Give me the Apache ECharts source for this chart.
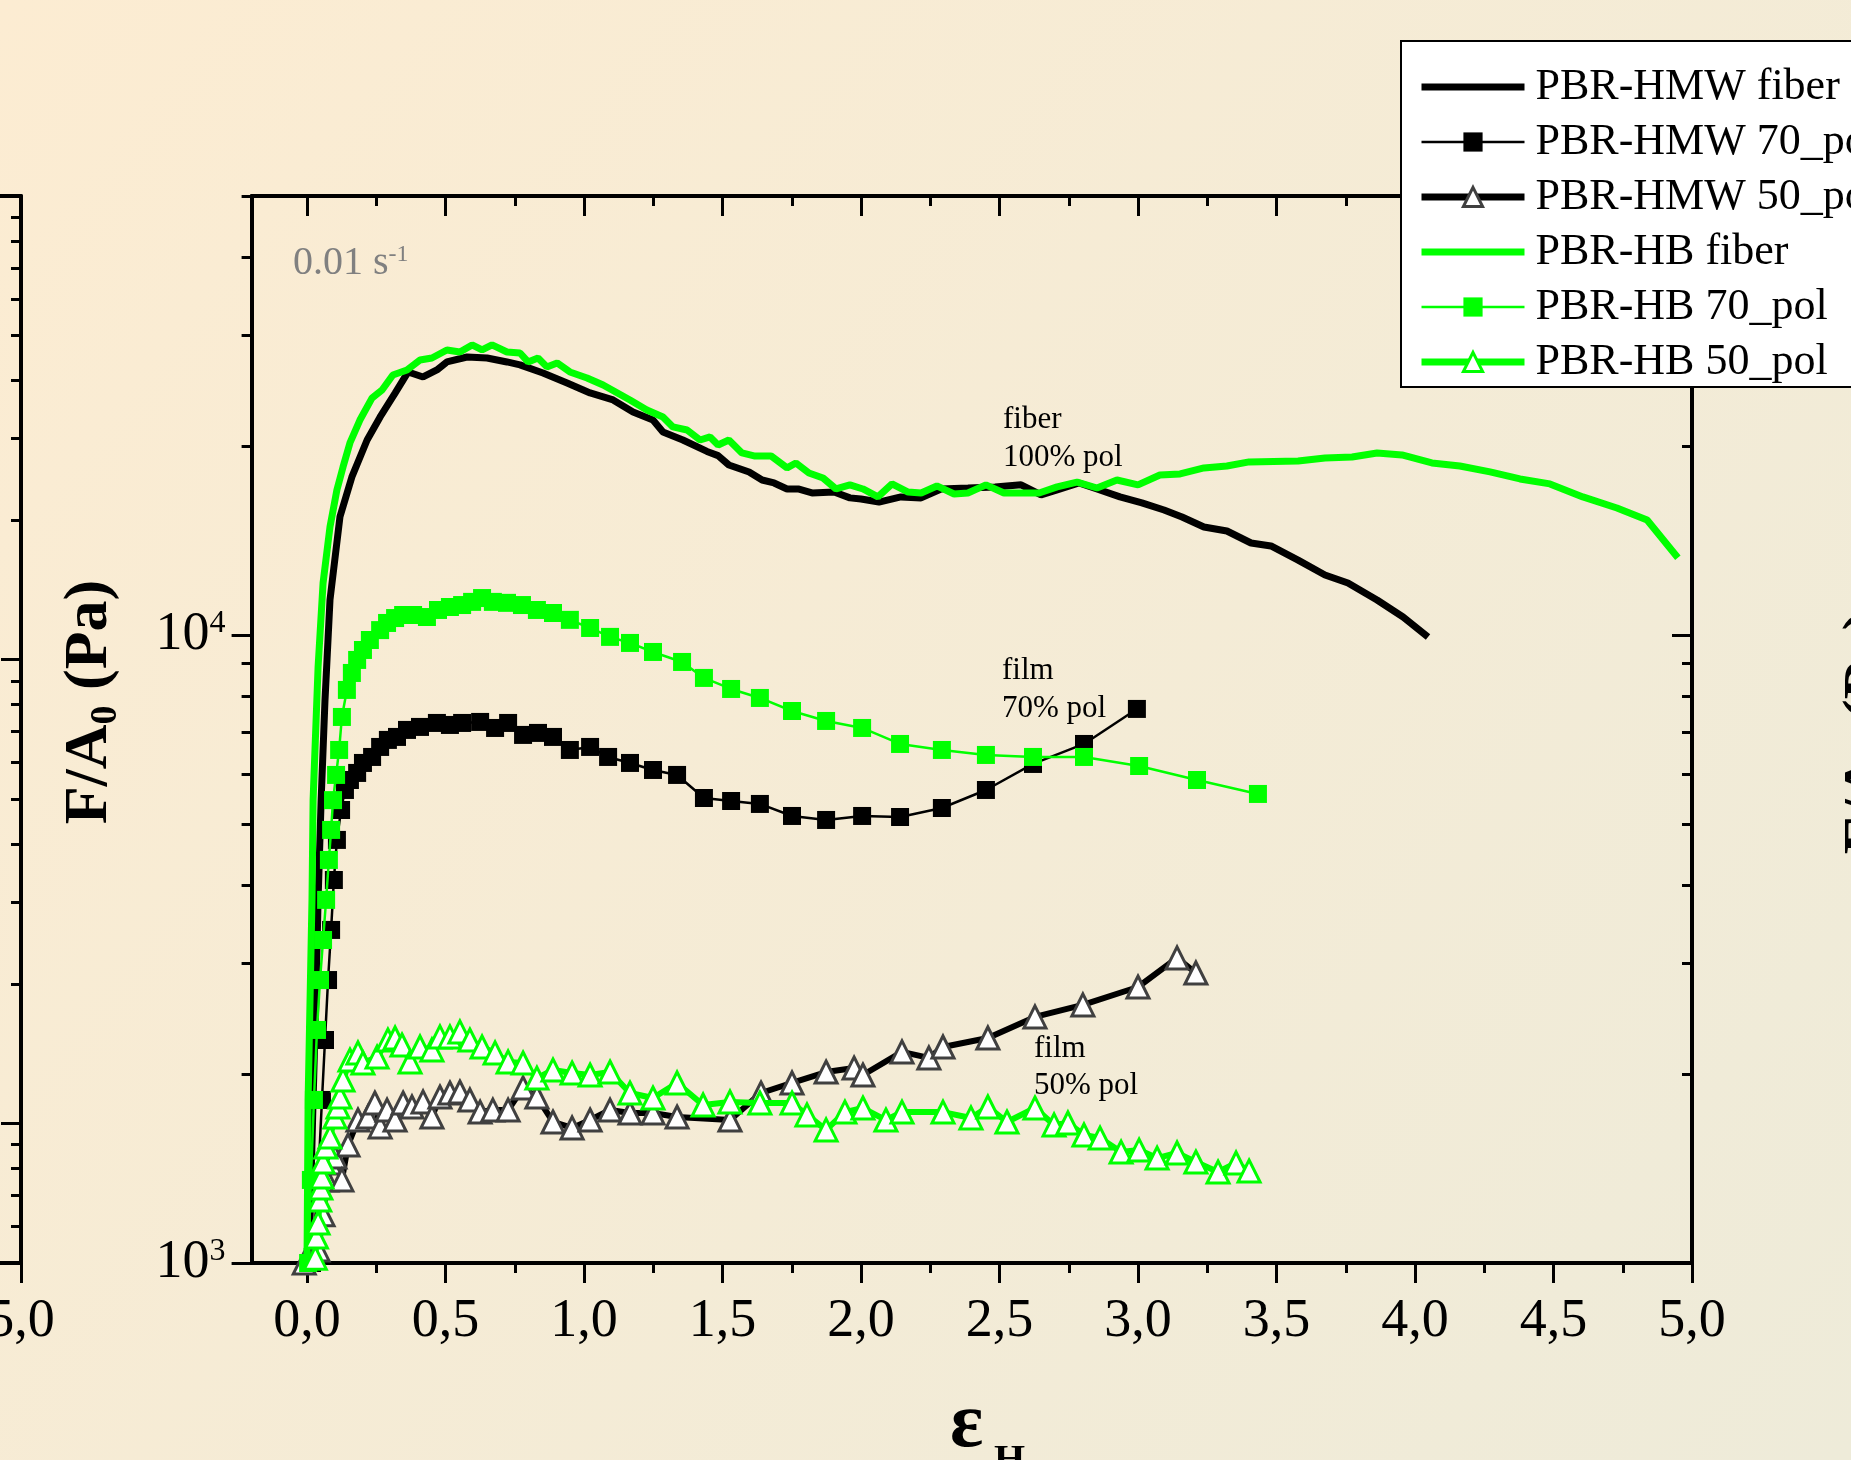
<!DOCTYPE html>
<html>
<head>
<meta charset="utf-8">
<script src="https://cdn.jsdelivr.net/npm/echarts@6/dist/echarts.min.js"></script>
<style>
  html, body { margin: 0; padding: 0; }
  #chart { width: 1851px; height: 1460px; }
</style>
</head>
<body>
<div id="chart"></div>
<script>
// ---- Hencky strain (x) and engineering stress F/A0 in Pa (y), extension rate 0.01 s^-1 ----
const hmwFiberX = [0.007, 0.022, 0.032, 0.040, 0.051, 0.065, 0.083, 0.119, 0.162, 0.217, 0.264, 0.318, 0.365, 0.419, 0.469, 0.505, 0.578, 0.650, 0.722, 0.769, 0.852, 0.939, 1.022, 1.105, 1.177, 1.249, 1.285, 1.357, 1.444, 1.484, 1.523, 1.596, 1.643, 1.686, 1.733, 1.773, 1.823, 1.903, 1.960, 2.000, 2.065, 2.144, 2.217, 2.289, 2.386, 2.484, 2.578, 2.650, 2.708, 2.787, 2.852, 2.935, 3.014, 3.094, 3.159, 3.238, 3.321, 3.408, 3.480, 3.578, 3.675, 3.758, 3.863, 3.957, 4.047];
const hmwFiberY = [1000, 1818, 2624, 3786, 5460, 7880, 11370, 15420, 17850, 20440, 22240, 24270, 26230, 25750, 26420, 27210, 27710, 27610, 27210, 26920, 26130, 25190, 24290, 23670, 22650, 21990, 21050, 20440, 19600, 19300, 18650, 18180, 17650, 17460, 17080, 17080, 16830, 16890, 16530, 16460, 16280, 16590, 16530, 17080, 17140, 17210, 17340, 16710, 17020, 17460, 17080, 16590, 16230, 15810, 15410, 14860, 14640, 14010, 13860, 13160, 12460, 12100, 11370, 10680, 9930];

const hmw70X = [0.018, 0.040, 0.054, 0.065, 0.076, 0.087, 0.097, 0.108, 0.123, 0.137, 0.155, 0.181, 0.202, 0.235, 0.264, 0.292, 0.325, 0.361, 0.408, 0.469, 0.516, 0.560, 0.625, 0.679, 0.726, 0.780, 0.834, 0.888, 0.949, 1.022, 1.087, 1.166, 1.249, 1.336, 1.433, 1.531, 1.635, 1.751, 1.874, 2.004, 2.141, 2.292, 2.451, 2.621, 2.805, 2.996];
const hmw70Y = [1000, 1356, 1818, 2265, 2822, 3391, 4072, 4717, 5264, 5665, 5876, 6030, 6255, 6394, 6633, 6806, 6881, 7060, 7138, 7243, 7190, 7243, 7270, 7111, 7243, 6932, 6983, 6881, 6560, 6633, 6394, 6255, 6096, 5986, 5501, 5441, 5382, 5150, 5075, 5150, 5131, 5303, 5665, 6232, 6706, 7625];

const hmw50X = [-0.010, 0.040, 0.058, 0.072, 0.083, 0.101, 0.126, 0.148, 0.184, 0.220, 0.245, 0.264, 0.289, 0.318, 0.347, 0.379, 0.419, 0.451, 0.480, 0.516, 0.552, 0.588, 0.625, 0.671, 0.726, 0.780, 0.830, 0.888, 0.957, 1.022, 1.094, 1.166, 1.249, 1.336, 1.527, 1.639, 1.751, 1.874, 1.975, 2.007, 2.148, 2.245, 2.296, 2.458, 2.628, 2.801, 3.000, 3.141, 3.209];
const hmw50Y = [1000, 1049, 1193, 1356, 1443, 1475, 1356, 1541, 1689, 1708, 1798, 1647, 1752, 1689, 1798, 1772, 1805, 1708, 1838, 1865, 1872, 1818, 1739, 1752, 1752, 1900, 1838, 1677, 1641, 1689, 1752, 1733, 1733, 1708, 1689, 1865, 1935, 2014, 2044, 1992, 2168, 2121, 2208, 2282, 2465, 2576, 2751, 3060, 2896];

const hbFiberX = [0.000, 0.004, 0.011, 0.018, 0.022, 0.040, 0.058, 0.083, 0.108, 0.130, 0.155, 0.191, 0.235, 0.271, 0.310, 0.361, 0.408, 0.451, 0.505, 0.552, 0.596, 0.632, 0.668, 0.722, 0.769, 0.798, 0.834, 0.866, 0.903, 0.949, 1.011, 1.069, 1.166, 1.227, 1.285, 1.321, 1.372, 1.419, 1.455, 1.484, 1.523, 1.570, 1.614, 1.675, 1.733, 1.765, 1.812, 1.863, 1.910, 1.960, 2.007, 2.061, 2.112, 2.170, 2.217, 2.274, 2.336, 2.386, 2.451, 2.516, 2.643, 2.708, 2.780, 2.852, 2.924, 3.000, 3.079, 3.152, 3.238, 3.321, 3.401, 3.578, 3.675, 3.773, 3.863, 3.953, 4.061, 4.162, 4.271, 4.379, 4.487, 4.606, 4.729, 4.838, 4.949];
const hbFiberY = [1000, 1818, 2624, 3786, 5460, 8890, 12100, 14860, 17020, 18510, 20220, 21990, 23850, 24550, 25940, 26420, 27410, 27610, 28430, 28220, 28960, 28430, 28960, 28220, 28120, 27210, 27610, 26720, 27110, 26230, 25660, 25010, 23670, 22820, 22240, 21440, 21200, 20440, 20670, 20070, 20440, 19490, 19280, 19280, 18450, 18790, 18110, 17780, 17080, 17340, 17080, 16590, 17400, 16890, 16830, 17270, 16770, 16830, 17340, 16830, 16830, 17210, 17520, 17140, 17650, 17340, 17980, 18050, 18450, 18580, 18860, 18930, 19140, 19200, 19490, 19350, 18790, 18580, 18180, 17720, 17400, 16590, 15930, 15240, 13270];

const hb70X = [0.004, 0.014, 0.025, 0.036, 0.047, 0.058, 0.069, 0.079, 0.087, 0.094, 0.105, 0.116, 0.126, 0.144, 0.162, 0.181, 0.202, 0.227, 0.264, 0.289, 0.318, 0.347, 0.383, 0.433, 0.473, 0.516, 0.560, 0.596, 0.632, 0.671, 0.722, 0.776, 0.830, 0.888, 0.949, 1.022, 1.094, 1.166, 1.249, 1.354, 1.433, 1.531, 1.635, 1.751, 1.874, 2.004, 2.141, 2.292, 2.451, 2.621, 2.805, 3.004, 3.213, 3.433];
const hb70Y = [1000, 1356, 1818, 2350, 2822, 3268, 3786, 4383, 4893, 5458, 5986, 6560, 7404, 8175, 8700, 9125, 9465, 9817, 10180, 10450, 10640, 10760, 10760, 10680, 10960, 11080, 11160, 11290, 11450, 11290, 11250, 11160, 10960, 10840, 10570, 10260, 9930, 9712, 9396, 9058, 8543, 8204, 7938, 7568, 7296, 7111, 6706, 6560, 6441, 6394, 6394, 6185, 5876, 5583];

const hb50X = [0.030, 0.034, 0.040, 0.046, 0.050, 0.054, 0.058, 0.068, 0.083, 0.101, 0.112, 0.119, 0.130, 0.155, 0.184, 0.202, 0.253, 0.292, 0.318, 0.343, 0.372, 0.408, 0.451, 0.480, 0.516, 0.552, 0.588, 0.632, 0.679, 0.726, 0.780, 0.830, 0.888, 0.957, 1.022, 1.094, 1.166, 1.249, 1.336, 1.430, 1.527, 1.635, 1.751, 1.805, 1.874, 1.942, 2.007, 2.090, 2.148, 2.296, 2.397, 2.458, 2.527, 2.628, 2.697, 2.747, 2.805, 2.863, 2.939, 3.004, 3.069, 3.141, 3.209, 3.289, 3.354, 3.401];
const hb50Y = [1018, 1100, 1158, 1260, 1316, 1371, 1448, 1530, 1587, 1708, 1772, 1838, 1956, 2105, 2160, 2082, 2128, 2265, 2282, 2224, 2090, 2208, 2184, 2291, 2291, 2333, 2265, 2208, 2160, 2090, 2082, 1970, 2029, 2007, 1992, 2014, 1865, 1831, 1935, 1785, 1805, 1798, 1798, 1721, 1629, 1739, 1765, 1689, 1739, 1739, 1702, 1772, 1677, 1765, 1659, 1671, 1599, 1581, 1502, 1513, 1469, 1497, 1448, 1396, 1443, 1401];

const seriesNames = ['PBR-HMW fiber', 'PBR-HMW 70_pol', 'PBR-HMW 50_pol', 'PBR-HB fiber', 'PBR-HB 70_pol', 'PBR-HB 50_pol'];

// ---- tick values ----
const xMajorTicks = [0, 0.5, 1, 1.5, 2, 2.5, 3, 3.5, 4, 4.5, 5];
const xMinorTicks = [0.25, 0.75, 1.25, 1.75, 2.25, 2.75, 3.25, 3.75, 4.25, 4.75];
const yMajorTicks = [1000, 10000];
const yMinorTicks = [2000, 3000, 4000, 5000, 6000, 7000, 8000, 9000, 20000, 30000, 40000, 50000];
// neighbouring panel on the left: only the strip at its right edge is in view
const sideMajorTicks = [100, 1000, 10000];
const sideMinorTicks = [50, 60, 70, 80, 90, 200, 300, 400, 500, 600, 700, 800, 900, 2000, 3000, 4000, 5000, 6000, 7000, 8000, 9000];

const SERIF = "'Liberation Serif', 'Times New Roman', serif";
const GREEN = '#00ff00';

const zip = (xs, ys) => xs.map((x, i) => [x, ys[i]]);
const commaFmt = v => v.toFixed(1).replace('.', ',');
const powFmt = v => '{b|10}{s|' + Math.round(Math.log10(v)) + '}';

// plot box of the main panel and strain scale (px per unit of strain)
const PLOT_LEFT = 251.6, PLOT_TOP = 196, PLOT_W = 1440.4, PLOT_H = 1067;
const X_MIN = -0.2, X_MAX = 5;
const PX_PER_X = PLOT_W / (X_MAX - X_MIN);
const SIDE_W = 21;   // visible width of the left neighbour panel

const noLine = { show: false, onZero: false };
const axisLine = { show: true, onZero: false, lineStyle: { color: '#000', width: 4 } };

function xAx(grid, pos, ticks, opts) {
  return Object.assign({
    type: 'value', gridIndex: grid, position: pos, min: X_MIN, max: X_MAX,
    axisLine: noLine,
    axisTick: { show: true, customValues: ticks, inside: pos === 'top', length: 20, lineStyle: { color: '#000', width: 3 } },
    axisLabel: { show: false },
    splitLine: { show: false }
  }, opts);
}
function yAx(grid, pos, ticks, min, max, opts) {
  return Object.assign({
    type: 'log', logBase: 10, gridIndex: grid, position: pos, min: min, max: max,
    axisLine: noLine,
    axisTick: { show: true, customValues: ticks, inside: pos === 'right', length: 20, lineStyle: { color: '#000', width: 3 } },
    axisLabel: { show: false },
    splitLine: { show: false }
  }, opts);
}
const minorTick = (ticks, inside) => ({ show: true, customValues: ticks, inside: inside, length: 10, lineStyle: { color: '#000', width: 3 } });
const xLabel = { show: true, customValues: xMajorTicks, formatter: commaFmt, margin: 32, fontFamily: SERIF, fontSize: 54, color: '#000' };

const chart = echarts.init(document.getElementById('chart'), null, { renderer: 'canvas' });

const option = {
  animation: false,
  backgroundColor: {
    type: 'linear', x: 0, y: 0, x2: 1, y2: 1,
    colorStops: [{ offset: 0, color: '#fcecd2' }, { offset: 1, color: '#eeebd9' }]
  },
  grid: [
    { left: PLOT_LEFT, top: PLOT_TOP, width: PLOT_W, height: PLOT_H, outerBoundsMode: 'none', containLabel: false },
    { left: 0, top: PLOT_TOP, width: SIDE_W, height: PLOT_H, outerBoundsMode: 'none', containLabel: false }
  ],
  xAxis: [
    xAx(0, 'bottom', xMajorTicks, { axisLine: axisLine, axisLabel: xLabel }),
    xAx(0, 'bottom', xMinorTicks, { axisTick: minorTick(xMinorTicks, false) }),
    xAx(0, 'top', xMajorTicks, { axisLine: axisLine }),
    xAx(0, 'top', xMinorTicks, { axisTick: minorTick(xMinorTicks, true) }),
    // same strain scale, showing only the last SIDE_W pixels of the neighbour panel
    xAx(1, 'bottom', xMajorTicks, { min: X_MAX - SIDE_W / PX_PER_X, axisLine: axisLine, axisLabel: xLabel }),
    xAx(1, 'top', xMajorTicks, { min: X_MAX - SIDE_W / PX_PER_X, axisLine: axisLine })
  ],
  yAxis: [
    yAx(0, 'left', yMajorTicks, 1000, 50000, {
      axisLine: axisLine,
      axisLabel: {
        show: true, customValues: yMajorTicks, formatter: powFmt, margin: 26,
        rich: {
          b: { fontFamily: SERIF, fontSize: 54, lineHeight: 54, color: '#000' },
          s: { fontFamily: SERIF, fontSize: 32, lineHeight: 32, verticalAlign: 'top', color: '#000' }
        }
      }
    }),
    yAx(0, 'left', yMinorTicks, 1000, 50000, { axisTick: minorTick(yMinorTicks, false) }),
    yAx(0, 'right', yMajorTicks, 1000, 50000, { axisLine: axisLine }),
    yAx(0, 'right', yMinorTicks, 1000, 50000, { axisTick: minorTick(yMinorTicks, true) }),
    yAx(1, 'right', sideMajorTicks, 50, 10000, { axisLine: axisLine }),
    yAx(1, 'right', sideMinorTicks, 50, 10000, { axisTick: minorTick(sideMinorTicks, true) })
  ],
  legend: {
    data: [
      { name: seriesNames[0], lineStyle: { width: 7 }, itemStyle: { opacity: 0 } },
      { name: seriesNames[1], lineStyle: { width: 2.5 } },
      { name: seriesNames[2], lineStyle: { width: 7 }, itemStyle: { borderWidth: 3 } },
      { name: seriesNames[3], lineStyle: { width: 7 }, itemStyle: { opacity: 0 } },
      { name: seriesNames[4], lineStyle: { width: 2.5 } },
      { name: seriesNames[5], lineStyle: { width: 7 }, itemStyle: { borderWidth: 3 } }
    ],
    orient: 'vertical', left: 1401, top: 41,
    padding: [21, 60, 0, 17], itemGap: 5, itemWidth: 103, itemHeight: 24,
    backgroundColor: '#ffffff', borderColor: '#000', borderWidth: 2, borderRadius: 0,
    selectedMode: false,
    textStyle: { fontFamily: SERIF, fontSize: 44, lineHeight: 50, color: '#000', padding: [0, 0, 0, 6] }
  },
  graphic: [
    {
      type: 'text', x: 293, y: 263, silent: true,
      style: {
        text: '{m|0.01 s}{s|-1}', textVerticalAlign: 'middle',
        rich: {
          m: { fontFamily: SERIF, fontSize: 40, lineHeight: 40, fill: '#808080' },
          s: { fontFamily: SERIF, fontSize: 24, lineHeight: 24, verticalAlign: 'top', fill: '#808080' }
        }
      }
    },
    { type: 'text', x: 1003, y: 420, silent: true, style: { text: 'fiber', font: '31px ' + SERIF, fill: '#000', textVerticalAlign: 'middle' } },
    { type: 'text', x: 1003, y: 458, silent: true, style: { text: '100% pol', font: '31px ' + SERIF, fill: '#000', textVerticalAlign: 'middle' } },
    { type: 'text', x: 1002, y: 671, silent: true, style: { text: 'film', font: '31px ' + SERIF, fill: '#000', textVerticalAlign: 'middle' } },
    { type: 'text', x: 1002, y: 709, silent: true, style: { text: '70% pol', font: '31px ' + SERIF, fill: '#000', textVerticalAlign: 'middle' } },
    { type: 'text', x: 1034, y: 1049, silent: true, style: { text: 'film', font: '31px ' + SERIF, fill: '#000', textVerticalAlign: 'middle' } },
    { type: 'text', x: 1034, y: 1086, silent: true, style: { text: '50% pol', font: '31px ' + SERIF, fill: '#000', textVerticalAlign: 'middle' } },
    // y-axis title of this panel and of the next panel on the right
    {
      type: 'text', x: 90, y: 702, rotation: Math.PI / 2, silent: true,
      style: {
        text: '{a|F/A}{b|0}{a| (Pa)}', textAlign: 'center', textVerticalAlign: 'middle',
        rich: {
          a: { fontFamily: SERIF, fontWeight: 'bold', fontSize: 62, lineHeight: 70, fill: '#000' },
          b: { fontFamily: SERIF, fontWeight: 'bold', fontSize: 38, lineHeight: 38, verticalAlign: 'bottom', fill: '#000' }
        }
      }
    },
    {
      type: 'text', x: 1869, y: 732, rotation: Math.PI / 2, silent: true,
      style: {
        text: '{a|F/A}{b|0}{a| (Pa)}', textAlign: 'center', textVerticalAlign: 'middle',
        rich: {
          a: { fontFamily: SERIF, fontWeight: 'bold', fontSize: 62, lineHeight: 70, fill: '#000' },
          b: { fontFamily: SERIF, fontWeight: 'bold', fontSize: 38, lineHeight: 38, verticalAlign: 'bottom', fill: '#000' }
        }
      }
    },
    // x-axis title
    { type: 'text', x: 950, y: 1426, silent: true, style: { text: 'ε', font: 'bold 78px ' + SERIF, fill: '#000', textVerticalAlign: 'middle' } },
    { type: 'text', x: 994, y: 1462, silent: true, style: { text: 'H', font: 'bold 40px ' + SERIF, fill: '#000', textVerticalAlign: 'middle' } }
  ],
  series: [
    {
      name: seriesNames[0], type: 'line', data: zip(hmwFiberX, hmwFiberY),
      symbol: 'none', lineStyle: { color: '#000', width: 7 }, itemStyle: { color: '#000' }, z: 2
    },
    {
      name: seriesNames[1], type: 'line', data: zip(hmw70X, hmw70Y),
      symbol: 'rect', symbolSize: 18, lineStyle: { color: '#000', width: 2.5 }, itemStyle: { color: '#000' }, z: 3
    },
    {
      name: seriesNames[2], type: 'line', data: zip(hmw50X, hmw50Y),
      symbol: 'triangle', symbolSize: 22, lineStyle: { color: '#000', width: 6 },
      itemStyle: { color: '#ffffff', borderColor: '#404040', borderWidth: 3 }, z: 4
    },
    {
      name: seriesNames[3], type: 'line', data: zip(hbFiberX, hbFiberY),
      symbol: 'none', lineStyle: { color: GREEN, width: 7 }, itemStyle: { color: GREEN }, z: 5
    },
    {
      name: seriesNames[4], type: 'line', data: zip(hb70X, hb70Y),
      symbol: 'rect', symbolSize: 18, lineStyle: { color: GREEN, width: 2.5 }, itemStyle: { color: GREEN }, z: 6
    },
    {
      name: seriesNames[5], type: 'line', data: zip(hb50X, hb50Y),
      symbol: 'triangle', symbolSize: 22, lineStyle: { color: GREEN, width: 6 },
      itemStyle: { color: '#ffffff', borderColor: GREEN, borderWidth: 3 }, z: 7
    }
  ]
};

chart.setOption(option);
</script>
</body>
</html>
